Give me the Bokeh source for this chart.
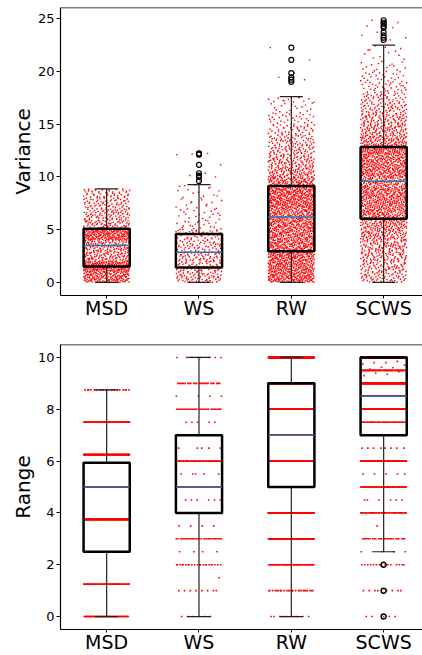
import numpy as np
from bokeh.plotting import figure
from bokeh.models import Range1d, FixedTicker, Span
from bokeh.layouts import column
from bokeh.embed import file_html
from bokeh.resources import INLINE

# ---------------- data ----------------
categories = ["MSD", "WS", "RW", "SCWS"]
positions = [1, 2, 3, 4]

# Variance panel: point counts per 1-unit bin starting at 0 (last bin ends at the category maximum)
var_counts_msd = [150, 200, 100, 100, 190, 80, 70, 60, 50]
var_counts_ws = [65, 55, 64, 50, 45, 22, 17, 13, 10, 4]
var_counts_rw = [170, 170, 170, 160, 160, 160, 150, 180, 180, 130, 100, 80, 65, 55, 40, 28, 18, 12]
var_counts_scws = [60, 70, 75, 85, 100, 110, 140, 145, 150, 125, 150, 150, 170, 110, 90, 75,
                   60, 45, 33, 24, 15, 9, 4]
var_max = [8.86, 9.27, 17.6, 22.47]
var_outliers_ws = [9.61, 10.0, 10.12, 10.34, 11.14, 12.1, 12.17, 12.22]
var_outliers_rw = [19.0, 19.2, 19.42, 19.83, 21.08, 22.24]
var_outliers_scws = [22.97, 23.18, 23.4, 23.69, 24.13, 24.29, 24.5, 24.62, 24.83]

# Variance box statistics: q1, median, q3, lower whisker, upper whisker
var_q1 = [1.51, 1.41, 2.96, 6.03]
var_med = [3.49, 2.86, 6.19, 9.59]
var_q3 = [5.09, 4.59, 9.14, 12.82]
var_lo = [0, 0, 0, 0]
var_hi = [8.86, 9.27, 17.6, 22.47]

# Range panel: discrete values and their counts
range_values_msd = [0, 1.25, 2.5, 3.75, 5, 6.25, 7.5, 8.75]
range_counts_msd = [60, 50, 150, 200, 290, 120, 110, 20]
range_values_half = [0, 0.5, 1, 1.5, 2, 2.5, 3, 3.5, 4, 4.5, 5, 5.5, 6, 6.5, 7, 7.5, 8, 8.5, 9, 9.5, 10]
range_counts_ws = [6, 0, 8, 1, 22, 4, 30, 4, 30, 6, 70, 5, 50, 5, 40, 5, 30, 4, 25, 0, 8]
range_counts_rw = [10, 0, 25, 0, 60, 0, 150, 0, 200, 0, 210, 0, 250, 0, 250, 0, 280, 0, 250, 0, 349]
range_counts_scws = [5, 0, 8, 0, 15, 4, 25, 1, 40, 6, 70, 5, 90, 8, 230, 50, 220, 230, 240, 60, 684]
range_extra_scws = [9.3, 9.35, 9.4, 9.45, 9.55, 9.6, 9.62, 9.7, 9.75, 9.8, 9.8, 9.85]
range_outliers_scws = [0, 1, 2]

range_q1 = [2.5, 4, 5, 7]
range_med = [5, 5, 7, 8.5]
range_q3 = [5.94, 7, 9, 10]
range_lo = [0, 0, 0, 2.5]
range_hi = [8.75, 10, 10, 10]


# ---------------- helpers ----------------
def vdc(n, base):
    v, denom = 0.0, 1.0
    while n:
        n, r = divmod(n, base)
        denom *= base
        v += r / denom
    return v


JIT = 0.25
BOXW = 0.25
CAPW = 0.125


def var_points(pos, counts, vmax, outl):
    xs, ys = [], []
    n = 1
    for b, c in enumerate(counts):
        lo, hi = b, min(b + 1, vmax)
        for _ in range(c):
            ys.append(lo + (hi - lo) * vdc(n, 2))
            xs.append(pos + 2 * JIT * (vdc(n, 3) - 0.5))
            n += 1
    for v in outl:
        ys.append(v)
        xs.append(pos + 2 * JIT * (vdc(n, 3) - 0.5))
        n += 1
    return xs, ys


def range_points(pos, values, counts, extra=()):
    xs, ys = [], []
    n = 1
    for v, c in zip(values, counts):
        for _ in range(c):
            ys.append(v)
            xs.append(pos + 2 * JIT * (vdc(n, 2) - 0.5))
            n += 1
    for v in extra:
        ys.append(v)
        xs.append(pos + 2 * JIT * (vdc(n, 2) - 0.5))
        n += 1
    return xs, ys


FONT = "DejaVu Sans"
XR = (0.5, 0.5 + 362 / 92.33)


def make_fig(height, yr, yticks, ylabel, top, bottom):
    p = figure(width=422, height=height, output_backend="svg", toolbar_location=None,
               x_range=Range1d(*XR), y_range=Range1d(*yr),
               min_border_left=60, min_border_right=0, min_border_top=top,
               min_border_bottom=bottom)
    p.outline_line_color = None
    p.grid.visible = False
    p.background_fill_color = "white"
    p.border_fill_color = "white"
    p.xaxis.ticker = FixedTicker(ticks=positions)
    p.xaxis.major_label_overrides = {pos: c for pos, c in zip(positions, categories)}
    p.yaxis.ticker = FixedTicker(ticks=yticks)
    for ax in (p.xaxis, p.yaxis):
        ax.axis_line_color = "black"
        ax.axis_line_width = 1.2
        ax.major_tick_line_color = "black"
        ax.major_tick_out = 4
        ax.major_tick_in = 0
        ax.minor_tick_line_color = None
        ax.major_label_text_font = FONT
        ax.major_label_text_color = "black"
    p.xaxis.major_tick_out = 3
    p.xaxis.major_label_text_font_size = "19px"
    p.xaxis.major_label_standoff = -2
    p.yaxis.major_label_text_font_size = "13px"
    p.yaxis.major_label_standoff = 2
    p.yaxis.axis_label = ylabel
    p.yaxis.axis_label_text_font = FONT
    p.yaxis.axis_label_text_font_size = "20px"
    p.yaxis.axis_label_text_font_style = "normal"
    p.yaxis.axis_label_text_color = "black"
    p.yaxis.axis_label_standoff = 0
    p.add_layout(Span(location=yr[1], dimension="width", line_color="black", line_width=1.5))
    return p


def draw_boxes(p, q1, med, q3, lo, hi):
    pos = np.array(positions, dtype=float)
    # whiskers
    p.segment(x0=pos, y0=q3, x1=pos, y1=hi, line_color="#222222", line_width=1.2)
    p.segment(x0=pos, y0=lo, x1=pos, y1=q1, line_color="#222222", line_width=1.2)
    # caps
    p.segment(x0=pos - CAPW, y0=hi, x1=pos + CAPW, y1=hi, line_color="#222222", line_width=1.2)
    p.segment(x0=pos - CAPW, y0=lo, x1=pos + CAPW, y1=lo, line_color="#222222", line_width=1.2)
    # boxes
    p.quad(left=pos - BOXW, right=pos + BOXW, bottom=q1, top=q3,
           fill_color=None, line_color="black", line_width=2.5)
    # medians
    p.segment(x0=pos - BOXW, y0=med, x1=pos + BOXW, y1=med, line_color="#1f77b4", line_width=1.5)


# ---------------- top: Variance ----------------
p1 = make_fig(331, (-1.24, 26.04), [0, 5, 10, 15, 20, 25], "Variance", 7, 36)

var_sets = [
    (var_counts_msd, []),
    (var_counts_ws, var_outliers_ws),
    (var_counts_rw, var_outliers_rw),
    (var_counts_scws, var_outliers_scws),
]
px, py = [], []
for i, (counts, outl) in enumerate(var_sets):
    xs, ys = var_points(positions[i], counts, var_max[i], outl)
    px += xs
    py += ys
p1.scatter(px, py, marker="square", size=1.4, fill_color="red", line_color=None)
draw_boxes(p1, var_q1, var_med, var_q3, var_lo, var_hi)
ox, oy = [], []
for i, outl in enumerate([[], var_outliers_ws, var_outliers_rw, var_outliers_scws]):
    ox += [positions[i]] * len(outl)
    oy += outl
p1.scatter(ox, oy, marker="circle", size=5, fill_color=None, line_color="black", line_width=1.2)

# ---------------- bottom: Range ----------------
p2 = make_fig(324, (-0.5, 10.5), [0, 2, 4, 6, 8, 10], "Range", 13, 23)

rx, ry = [], []
for i, (vals, cnts, extra) in enumerate([
    (range_values_msd, range_counts_msd, []),
    (range_values_half, range_counts_ws, []),
    (range_values_half, range_counts_rw, []),
    (range_values_half, range_counts_scws, range_extra_scws),
]):
    xs, ys = range_points(positions[i], vals, cnts, extra)
    rx += xs
    ry += ys
p2.scatter(rx, ry, marker="square", size=1.6, fill_color="red", line_color=None)
draw_boxes(p2, range_q1, range_med, range_q3, range_lo, range_hi)
p2.scatter([positions[3]] * len(range_outliers_scws), range_outliers_scws, marker="circle",
           size=5, fill_color=None, line_color="black", line_width=1.5)

layout = column(p1, p2, spacing=0)
open("out.html", "w").write(file_html(layout, INLINE))
